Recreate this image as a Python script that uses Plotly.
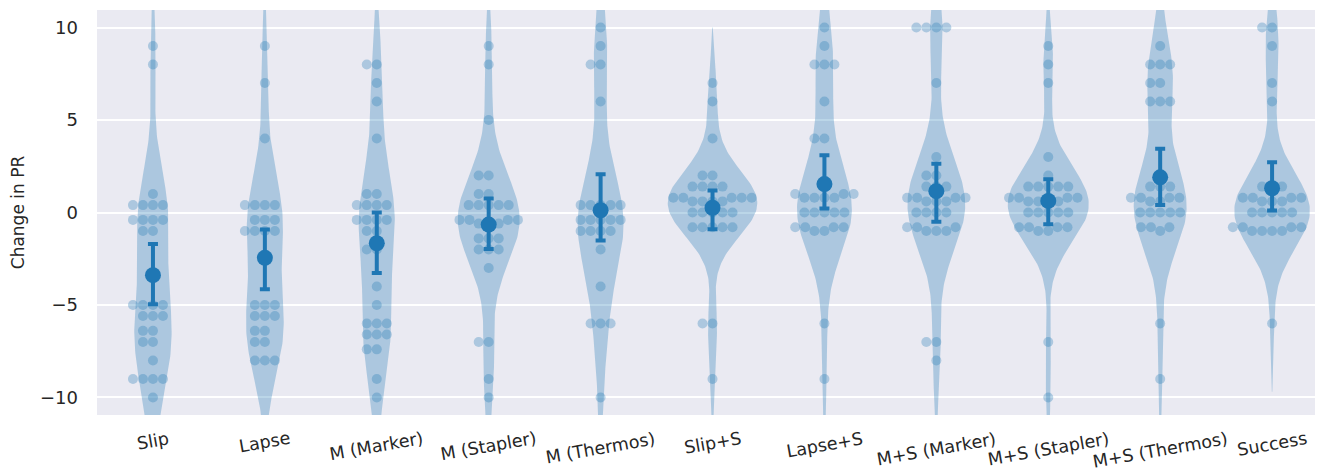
import numpy as np
import plotly.graph_objects as go

categories = ["Slip", "Lapse", "M (Marker)", "M (Stapler)", "M (Thermos)", "Slip+S",
              "Lapse+S", "M+S (Marker)", "M+S (Stapler)", "M+S (Thermos)", "Success"]

slip = [9, 8, 1, 0.4, 0.4, 0.4, 0.4, -0.4, -0.4, -0.4, -0.4, -1, -1,
        -5, -5, -5, -5, -5.6, -5.6, -5.6, -6.4, -6.4, -7, -7, -8, -9, -9, -9, -9, -10]
lapse = [9, 7, 4, 0.4, 0.4, 0.4, 0.4, -0.4, -0.4, -0.4, -1, -1, -1, -1,
         -5, -5, -5, -5.6, -5.6, -5.6, -6.4, -6.4, -7, -7, -8, -8, -8]
m_marker = [8, 8, 7, 6, 4, 1, 1, 0.4, 0.4, 0.4, 0.4, -0.4, -0.4, -0.4, -0.4, -1, -1,
            -2, -2, -4, -5, -6, -6, -6, -6.6, -6.6, -6.6, -7.4, -7.4, -9, -10]
m_stapler = [9, 8, 5, 2, 2, 1, 1, 0.4, 0.4, 0.4, 0.4, 0.4, -0.4, -0.4, -0.4, -0.4,
             -0.6, -0.6, -0.6, -1.4, -1.4, -1.4, -2, -2, -2, -3, -7, -7, -9, -10]
m_thermos = [10, 9, 8, 8, 6, 0.4, 0.4, 0.4, 0.4, 0.4, -0.4, -0.4, -0.4, -0.4, -0.4,
             -1, -1, -1, -1, -2, -4, -6, -6, -6, -10]
slip_s = [7, 6, 4, 2, 2, 1.4, 1.4, 1.4, 1.4, 0.8, 0.8, 0.8, 0.8, 0.8, 0.6, 0.6, 0.6, 0.6,
          0, 0, 0, 0, 0, -0.8, -0.8, -0.8, -0.8, -0.8, -6, -6, -9]
lapse_s = [10, 9, 8, 8, 8, 6, 4, 4, 1, 1, 1, 0.8, 0.8, 0.8, 0.8, 0, 0, 0, 0, 0,
           -0.8, -0.8, -0.8, -0.8, -1, -1, -6, -9]
ms_marker = [10, 10, 10, 10, 7, 3, 2, 2, 1.4, 1.4, 1.4, 0.8, 0.8, 0.8, 0.8, 0.6, 0.6, 0.6,
             0, 0, 0, 0, -0.8, -0.8, -0.8, -1, -1, -1, -7, -7, -8]
ms_stapler = [9, 8, 7, 3, 2, 1.4, 1.4, 1.4, 1.4, 1.4, 0.8, 0.8, 0.8, 0.8, 0.6, 0.6, 0.6, 0.6,
              0, 0, 0, 0, 0, -0.8, -0.8, -0.8, -0.8, -1, -1, -7, -10]
ms_thermos = [9, 8, 8, 8, 7, 7, 6, 6, 6, 1.4, 1.4, 1.4, 0.8, 0.8, 0.8, 0.8, 0.6, 0.6,
              0, 0, 0, 0, 0, -0.8, -0.8, -0.8, -1, -6, -9]
success = [10, 10, 9, 7, 6, 1.4, 1.4, 1.4, 0.8, 0.8, 0.8, 0.8, 0.6, 0.6, 0.6,
           0, 0, 0, 0, 0, -0.8, -0.8, -0.8, -0.8, -1, -1, -1, -1, -6]

ci_low = [-4.96, -4.15, -3.27, -1.98, -1.51, -0.90, 0.22, -0.50, -0.63, 0.41, 0.11]
ci_high = [-1.71, -0.92, 0.00, 0.76, 2.07, 1.19, 3.09, 2.63, 1.80, 3.45, 2.72]

y_tick_vals = [-10, -5, 0, 5, 10]
y_tick_text = ["\u221210", "\u22125", "0", "5", "10"]

series = [slip, lapse, m_marker, m_stapler, m_thermos, slip_s, lapse_s,
          ms_marker, ms_stapler, ms_thermos, success]

# layout geometry (page body has an 8px margin, compensated here)
W, H = 1315, 464
ML, MR, MT, MB = 89, 0, 2, 57
XR = [-0.5, 10.455]
YR = [-10.95, 10.95]
px_x = (W - ML - MR) / (XR[1] - XR[0])
px_y = (H - MT - MB) / (YR[1] - YR[0])

BLUE = "#1f77b4"
BLUE_A = "rgba(31,119,180,0.3)"
TEXT = "#262626"
DOT = 10
FS = 18
FS_X = 17.5


def swarm_offsets(values, r_px):
    vals = np.asarray(values, float)
    order = np.argsort(vals, kind="stable")
    d = 2 * r_px
    placed = []
    out = np.zeros(len(vals))
    for idx in order:
        y = vals[idx] * px_y
        neigh = []
        for xj, yj in reversed(placed):
            if y - yj < d:
                neigh.append((xj, yj))
            else:
                break
        neigh = neigh[::-1]
        cands = [0.0]
        left_first = True
        for xj, yj in neigh:
            dy = y - yj
            dx = np.sqrt(max(d * d - dy * dy, 0.0)) * 1.05
            pair = [xj - dx, xj + dx] if left_first else [xj + dx, xj - dx]
            cands.extend(pair)
            left_first = not left_first
        cands = np.array(cands)
        cands = cands[np.argsort(np.abs(cands), kind="stable")]
        chosen = cands[-1]
        for c in cands:
            if all((c - xj) ** 2 + (y - yj) ** 2 >= d * d * 0.999 for xj, yj in neigh):
                chosen = c
                break
        placed.append((chosen, y))
        out[idx] = chosen
    return out / px_x


def kde_curve(vals):
    v = np.asarray(vals, float)
    bw = np.std(v, ddof=1) * len(v) ** (-1 / 5)   # Scott's rule
    grid = np.linspace(v.min() - 2 * bw, v.max() + 2 * bw, 200)
    z = (grid[:, None] - v[None, :]) / bw
    dens = np.exp(-0.5 * z ** 2).sum(axis=1) / (len(v) * bw * np.sqrt(2 * np.pi))
    return grid, dens


fig = go.Figure()

# violins (area-scaled: widest density gets half-width 0.4)
curves = [kde_curve(v) for v in series]
gmax = max(d.max() for _, d in curves)
for i, (grid, dens) in enumerate(curves):
    half = dens / gmax * 0.4
    xs = np.concatenate([i + half, (i - half)[::-1]])
    ys = np.concatenate([grid, grid[::-1]])
    fig.add_trace(go.Scatter(
        x=xs, y=ys, mode="lines", fill="toself", fillcolor=BLUE_A,
        line=dict(width=0, color="rgba(0,0,0,0)"),
        hoverinfo="skip", showlegend=False,
    ))

# swarm
sx, sy = [], []
for i, vals in enumerate(series):
    offs = swarm_offsets(vals, DOT / 2 / 1.05)
    sx.extend(i + offs)
    sy.extend(vals)
fig.add_trace(go.Scatter(
    x=sx, y=sy, mode="markers",
    marker=dict(size=DOT, color=BLUE_A, line=dict(width=0)),
    hoverinfo="skip", showlegend=False,
))

# means with CI
means = [float(np.mean(v)) for v in series]
fig.add_trace(go.Scatter(
    x=list(range(len(categories))), y=means, mode="markers",
    marker=dict(size=16, color=BLUE, line=dict(width=0)),
    error_y=dict(type="data", symmetric=False,
                 array=[h - m for h, m in zip(ci_high, means)],
                 arrayminus=[m - l for m, l in zip(means, ci_low)],
                 thickness=4, width=5, color=BLUE),
    showlegend=False,
))

annotations = []
for i, c in enumerate(categories):
    annotations.append(dict(
        x=i, y=0, xref="x", yref="paper", text=c, showarrow=False,
        textangle=-10, xanchor="center", yanchor="top", yshift=-12,
        borderpad=0, font=dict(size=FS_X, color=TEXT, family="DejaVu Sans"),
    ))

fig.update_layout(
    width=W, height=H,
    margin=dict(l=ML, r=MR, t=MT, b=MB, pad=0, autoexpand=False),
    paper_bgcolor="white", plot_bgcolor="#eaeaf2",
    font=dict(family="DejaVu Sans", size=FS, color=TEXT),
    xaxis=dict(range=XR, showgrid=False, zeroline=False, showticklabels=False,
               ticks="", showline=False, fixedrange=True),
    yaxis=dict(range=YR, tickvals=y_tick_vals, ticktext=y_tick_text,
               showgrid=True, gridcolor="white", gridwidth=1.8, zeroline=False,
               ticks="", showline=False, ticklabelstandoff=18,
               title=dict(text="Change in PR", standoff=12, font=dict(size=17))),
    annotations=annotations,
)

fig.write_html("out.html")
